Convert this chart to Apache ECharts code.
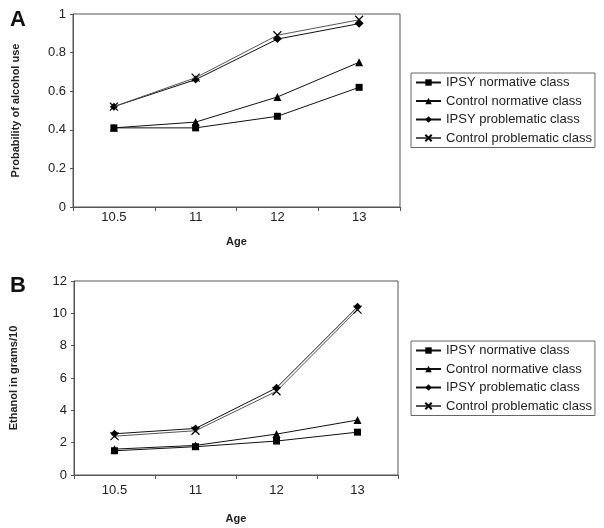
<!DOCTYPE html>
<html><head><meta charset="utf-8">
<script src="https://cdn.jsdelivr.net/npm/echarts@6/dist/echarts.min.js"></script>
<style>html,body{margin:0;padding:0;background:#fff}#c{width:604px;height:528px}</style>
</head><body><div id="c"></div>
<script>
const ages = ['10.5','11','12','13'];
const seriesNames = ['IPSY normative class','Control normative class','IPSY problematic class','Control problematic class'];
// Panel A: probability of alcohol use
const probIpsyNorm = [0.41, 0.41, 0.47, 0.62];
const probCtrlNorm = [0.41, 0.44, 0.57, 0.75];
const probIpsyProb = [0.52, 0.66, 0.87, 0.95];
const probCtrlProb = [0.52, 0.67, 0.89, 0.97];
// Panel B: ethanol in grams/10
const ethIpsyNorm = [1.5, 1.75, 2.1, 2.65];
const ethCtrlNorm = [1.6, 1.83, 2.53, 3.4];
const ethIpsyProb = [2.55, 2.88, 5.39, 10.4];
const ethCtrlProb = [2.4, 2.74, 5.18, 10.23];
const yTicksA = [0, 0.2, 0.4, 0.6, 0.8, 1];
const yTicksB = [0, 2, 4, 6, 8, 10, 12];

const FONT = 'Liberation Sans, Arial, sans-serif';
const xPath = 'path://M0,0L10,10M10,0L0,10';
const symbols = ['rect', 'triangle', 'diamond', xPath];
const symSizes = [7, 8, 8, 8];
const lineColors = ['#111', '#111', '#111', '#555'];

function mkSeries(datas, idx) {
  return datas.map((d, i) => ({
    name: seriesNames[i], type: 'line', xAxisIndex: idx, yAxisIndex: idx,
    data: d, symbol: symbols[i], symbolSize: symSizes[i],
    lineStyle: {color: lineColors[i], width: 1},
    itemStyle: {color: '#000', borderColor: '#000', borderWidth: i === 3 ? 1.2 : 0},
    z: 3 + i, animation: false
  }));
}
function xAx(idx, margin, nameGap) {
  return {type: 'category', gridIndex: idx, data: ages, boundaryGap: true,
    axisLine: {lineStyle: {color: '#555', width: 1}},
    axisTick: {show: true, length: 4, lineStyle: {color: '#555'}},
    axisLabel: {color: '#222', fontSize: 13, fontFamily: FONT, margin: margin},
    name: 'Age', nameLocation: 'middle', nameGap: nameGap,
    nameTextStyle: {fontWeight: 'bold', fontSize: 11, color: '#222', fontFamily: FONT}};
}
function yAx(idx, max, interval, name, fmt, nameGap) {
  return {type: 'value', gridIndex: idx, min: 0, max: max, interval: interval,
    axisLine: {show: true, lineStyle: {color: '#555', width: 1}},
    axisTick: {show: true, length: 3, lineStyle: {color: '#555'}},
    splitLine: {show: false},
    axisLabel: {color: '#222', fontSize: 13, fontFamily: FONT, margin: 7, formatter: fmt},
    name: name, nameLocation: 'middle', nameGap: nameGap, nameRotate: 90,
    nameTextStyle: {fontWeight: 'bold', fontSize: 11, color: '#222', fontFamily: FONT}};
}
function legend(idx, top) {
  return {show: true, orient: 'vertical', left: 411, top: top,
    data: seriesNames.map(n => ({name: n})),
    borderColor: '#666', borderWidth: 1, padding: [3, 3, 3, 4],
    itemWidth: 25, itemHeight: 8, itemGap: 5.5,
    textStyle: {fontSize: 13, fontFamily: FONT, color: '#222', lineHeight: 13},
    selectedMode: false};
}
const chart = echarts.init(document.getElementById('c'), null, {renderer: 'canvas'});
chart.setOption({
  animation: false,
  backgroundColor: '#fff',
  title: [
    {text: 'A', left: 5, top: 4, textStyle: {fontSize: 22, fontWeight: 'bold', fontFamily: FONT, color: '#111'}},
    {text: 'B', left: 5, top: 270, textStyle: {fontSize: 22, fontWeight: 'bold', fontFamily: FONT, color: '#111'}}
  ],
  grid: [
    {left: 73, top: 14, right: 204, bottom: 321, show: true, borderColor: '#555', borderWidth: 1},
    {left: 69, top: 281, right: 206, bottom: 53, show: true, borderColor: '#555', borderWidth: 1}
  ],
  legend: [legend(0, 73), legend(1, 341)],
  xAxis: [xAx(0, 4, 29), xAx(1, 9, 38)],
  yAxis: [
    yAx(0, 1, 0.2, 'Probability of alcohol use', v => (Math.round(v*10)/10).toString(), 52),
    yAx(1, 12, 2, 'Ethanol in grams/10', v => v.toString(), 55)
  ],
  series: [
    ...mkSeries([probIpsyNorm, probCtrlNorm, probIpsyProb, probCtrlProb], 0),
    ...mkSeries([ethIpsyNorm, ethCtrlNorm, ethIpsyProb, ethCtrlProb], 1)
  ]
});
</script></body></html>
